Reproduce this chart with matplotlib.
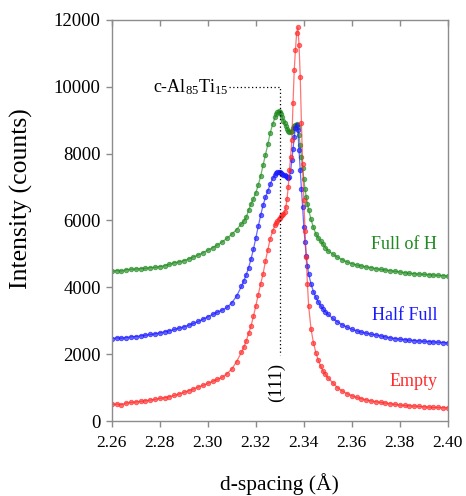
import matplotlib
matplotlib.use('Agg')
import matplotlib.pyplot as plt

plt.rcParams['font.family'] = ['Liberation Serif', 'DejaVu Serif']
plt.rcParams['mathtext.fontset'] = 'custom'
plt.rcParams['mathtext.rm'] = 'Liberation Serif'
plt.rcParams['mathtext.it'] = 'Liberation Serif:italic'

# d-spacing grid shared by the three scans
d_spacing = [
    2.260, 2.262, 2.264, 2.266, 2.268, 2.270, 2.272, 2.274, 2.276, 2.278,
    2.280, 2.282, 2.284, 2.286, 2.288, 2.290, 2.292, 2.294, 2.296, 2.298,
    2.300, 2.302, 2.304, 2.306, 2.308, 2.310, 2.312, 2.314,
    2.315, 2.316, 2.317, 2.318, 2.319, 2.320, 2.321, 2.322, 2.323, 2.324,
    2.325, 2.326, 2.327,
    2.3280, 2.3285, 2.3290, 2.3295, 2.3300, 2.3305, 2.3310, 2.3315, 2.3320,
    2.3325, 2.3330, 2.3335, 2.3340, 2.3345, 2.3350, 2.3355, 2.3360, 2.3365,
    2.3370, 2.3375, 2.3380, 2.3385, 2.3390, 2.3395, 2.3400, 2.3405, 2.3410,
    2.3415, 2.3420,
    2.343, 2.344, 2.345, 2.346, 2.347, 2.348, 2.349,
    2.350, 2.352, 2.354, 2.356, 2.358, 2.360, 2.362, 2.364, 2.366, 2.368,
    2.370, 2.372, 2.374, 2.376, 2.378, 2.380, 2.382, 2.384, 2.386, 2.388,
    2.390, 2.392, 2.394, 2.396, 2.398, 2.400,
]

full_of_h = [
    4480, 4500, 4490, 4530, 4540, 4550, 4560, 4570, 4590, 4600,
    4620, 4650, 4690, 4740, 4760, 4800, 4850, 4910, 4970, 5040,
    5110, 5190, 5270, 5360, 5470, 5590, 5730, 5900,
    5990, 6100, 6310, 6500, 6650, 6830, 7060, 7320, 7650, 7960,
    8280, 8620, 8880,
    9080, 9170, 9230, 9260, 9250, 9180, 9080, 8980, 8900,
    8820, 8750, 8690, 8660, 8650, 8690, 8760, 8820, 8870,
    8880, 8800, 8560, 8250, 7900, 7560, 7230, 6940, 6700,
    6500, 6320,
    6030, 5790, 5600, 5480, 5380, 5290, 5190,
    5100, 5000, 4900, 4830, 4760, 4710, 4670, 4640, 4610, 4590,
    4560, 4540, 4520, 4500, 4480, 4460, 4440, 4420, 4410, 4400,
    4390, 4380, 4370, 4360, 4350, 4340,
]

half_full = [
    2470, 2490, 2480, 2500, 2520, 2530, 2550, 2570, 2590, 2610,
    2640, 2670, 2700, 2740, 2780, 2820, 2870, 2920, 2980, 3050,
    3120, 3190, 3260, 3320, 3400, 3540, 3740, 4030,
    4200, 4380, 4590, 4850, 5140, 5480, 5820, 6150, 6450, 6690,
    6890, 7080, 7260,
    7360, 7410, 7440, 7460, 7460, 7430, 7390, 7370, 7350,
    7320, 7290, 7270, 7300, 7480, 7800, 8150, 8500, 8760,
    8850, 8700, 8100, 7500, 6950, 6400, 5800, 5350, 4950,
    4640, 4400,
    4100, 3870, 3700, 3570, 3450, 3350, 3270,
    3200, 3070, 2970, 2880, 2810, 2750, 2700, 2660, 2630, 2600,
    2580, 2550, 2520, 2490, 2470, 2450, 2440, 2420, 2410, 2400,
    2390, 2380, 2370, 2360, 2350, 2340,
]

empty = [
    500, 510, 490, 540, 560, 570, 590, 610, 630, 650,
    680, 700, 730, 770, 810, 860, 910, 960, 1020, 1070,
    1130, 1190, 1250, 1310, 1420, 1560, 1780, 2060,
    2210, 2400, 2620, 2850, 3130, 3450, 3780, 4100, 4400, 4780,
    5130, 5450, 5680,
    5860, 5930, 5990, 6040, 6080, 6120, 6160, 6200, 6260,
    6400, 6650, 7000, 7500, 7900, 8400, 9500, 10500, 11100,
    11600, 11780, 11250, 10300, 8900, 7700, 6600, 5700, 4900,
    4100, 3450,
    2750, 2350, 2050, 1830, 1640, 1500, 1400,
    1300, 1150, 1000, 900, 820, 760, 710, 670, 635, 605,
    580, 560, 540, 520, 500, 480, 470, 460, 450, 440,
    430, 420, 410, 410, 400, 400,
]

series = [
    (full_of_h, '#1f8a1f', 'Full of H', 5270),
    (half_full, '#1a1aff', 'Half Full', 3170),
    (empty, '#ff2a2a', 'Empty', 1170),
]

fig = plt.figure(figsize=(4.66, 4.96), dpi=100)
ax = fig.add_axes([0.240, 0.151, 0.721, 0.809])

for vals, col, name, ytxt in series:
    ax.plot(d_spacing, vals, '-o', color=col, lw=0.9, ms=3.2, mew=0.7,
            mfc=col, alpha=0.65)
    ax.text(2.3955, ytxt, name, color=col, fontsize=13, ha='right', va='center')

# peak marker for c-Al85Ti15 (111)
ax.plot([2.3088, 2.330, 2.330], [9990, 9990, 1980], color='k', lw=0.9,
        linestyle=(0, (1, 2)))
ax.text(2.3085, 9990, 'c-Al$_{85}$Ti$_{15}$', fontsize=13, ha='right', va='center')
ax.text(2.3288, 1150, '(111)', fontsize=13.5, rotation=90, ha='center', va='center')

ax.set_xlim(2.26, 2.40)
ax.set_ylim(0, 12000)
ax.set_xticks([2.26, 2.28, 2.30, 2.32, 2.34, 2.36, 2.38, 2.40])
ax.set_xticklabels(['2.26', '2.28', '2.30', '2.32', '2.34', '2.36', '2.38', '2.40'])
ax.set_yticks(range(0, 12001, 2000))

for s in ax.spines.values():
    s.set_color('#8c8c8c')
    s.set_linewidth(1.0)

ax.tick_params(axis='both', color='#8c8c8c', length=4, width=1)
ax.tick_params(axis='x', direction='out', top=True, pad=6, labelsize=12.5)
ax.tick_params(axis='y', direction='out', pad=4, labelsize=13.5)
for t in ax.xaxis.get_major_ticks():
    t.tick2line.set_marker(3)  # top ticks point into the plot

ax.set_xlabel('d-spacing (Å)', fontsize=15.5, labelpad=16)
ax.set_ylabel('Intensity (counts)', fontsize=18.5)
ax.yaxis.set_label_coords(-0.236, 0.555)

fig.savefig('out.png', dpi=100)
